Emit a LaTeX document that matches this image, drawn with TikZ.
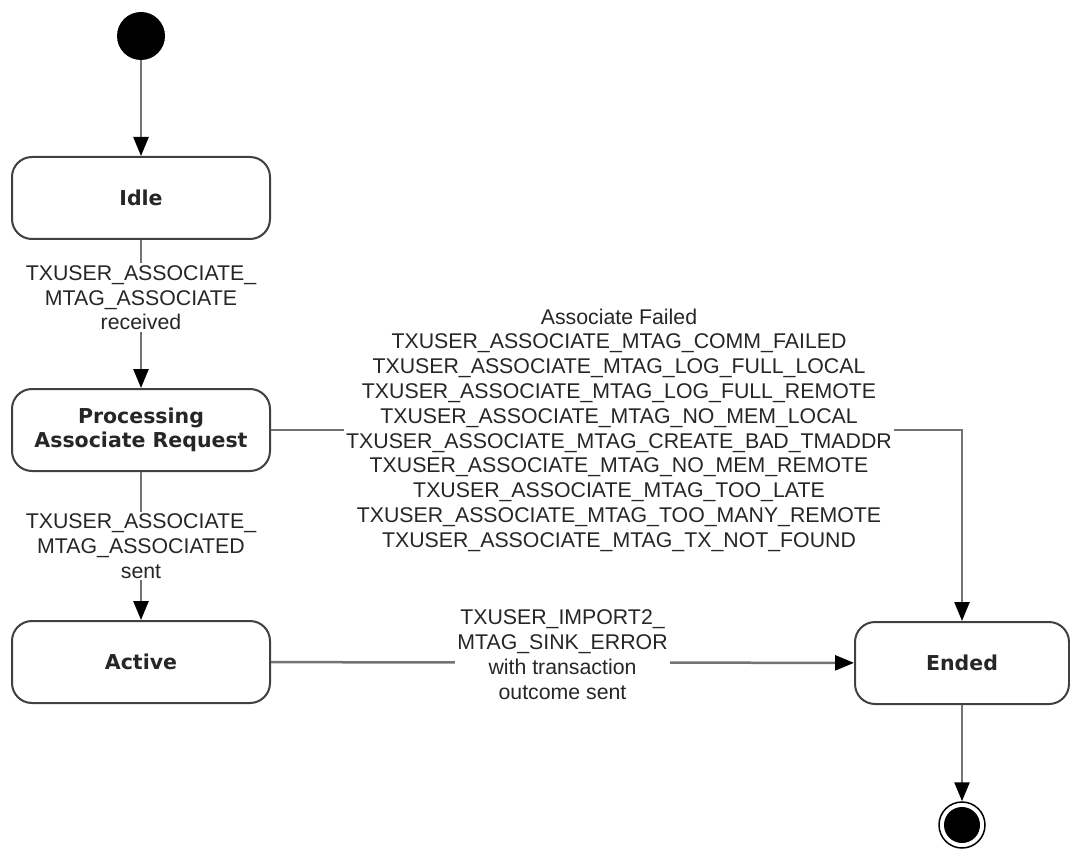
\documentclass[tikz,border=0pt]{standalone}
\usepackage{fontspec}
\setmainfont{Liberation Sans}
\newfontfamily\statefont{DejaVu Sans}
\usetikzlibrary{arrows.meta,positioning}

\begin{document}
\begin{tikzpicture}[x=1pt, y=-1pt,
    state/.style={draw=black!75, line width=2pt, rounded corners=20pt, fill=white,
      minimum width=258pt, minimum height=82pt, align=center, text=black!85,
      font=\statefont\bfseries\fontsize{20.5}{24}\selectfont},
    flow/.style={draw=black!55, line width=2.5pt,
      -{Triangle[length=19pt,width=15pt,color=black]}},
    lbl/.style={fill=white, align=center, inner sep=2pt, text=black!85,
      font=\fontsize{21.3}{24.8}\selectfont}]

    \useasboundingbox (0,0) rectangle (1070,850);

    % start and end points
    \node[circle, fill=black, minimum size=48pt, inner sep=0pt] (init) at (141,36) {};
    \node[circle, draw=black, line width=1.5pt, minimum size=46pt, inner sep=0pt,
      path picture={\fill (path picture bounding box.center) circle (18pt);}] (fin) at (962,825) {};

    % states
    \node[state] (idle)   at (141,198) {Idle};
    \node[state] (proc)   at (141,430) {Processing\\Associate Request};
    \node[state] (active) at (141,662) {Active};
    \node[state, minimum width=214pt] (ended) at (962,663) {Ended};

    % transitions
    \draw[flow] (init) -- (idle);
    \draw[flow] (idle) -- node[lbl, pos=0.39] (assoc) {TXUSER\_ASSOCIATE\_\\MTAG\_ASSOCIATE\\received} (proc);
    \draw[flow] (proc) -- node[lbl] (assocd) {TXUSER\_ASSOCIATE\_\\MTAG\_ASSOCIATED\\sent} (active);
    \draw[flow] (active) -- node[lbl, yshift=8pt] (sinkerr) {TXUSER\_IMPORT2\_\\MTAG\_SINK\_ERROR\\with transaction\\outcome sent} (ended);
    \draw[flow] (proc.east) -| (ended.north);
    \node[lbl] (failed) at (619,430) {Associate Failed\\
      TXUSER\_ASSOCIATE\_MTAG\_COMM\_FAILED\\
      TXUSER\_ASSOCIATE\_MTAG\_LOG\_FULL\_LOCAL\\
      TXUSER\_ASSOCIATE\_MTAG\_LOG\_FULL\_REMOTE\\
      TXUSER\_ASSOCIATE\_MTAG\_NO\_MEM\_LOCAL\\
      TXUSER\_ASSOCIATE\_MTAG\_CREATE\_BAD\_TMADDR\\
      TXUSER\_ASSOCIATE\_MTAG\_NO\_MEM\_REMOTE\\
      TXUSER\_ASSOCIATE\_MTAG\_TOO\_LATE\\
      TXUSER\_ASSOCIATE\_MTAG\_TOO\_MANY\_REMOTE\\
      TXUSER\_ASSOCIATE\_MTAG\_TX\_NOT\_FOUND};
    \draw[flow] (ended) -- (fin);

\end{tikzpicture}
\end{document}
